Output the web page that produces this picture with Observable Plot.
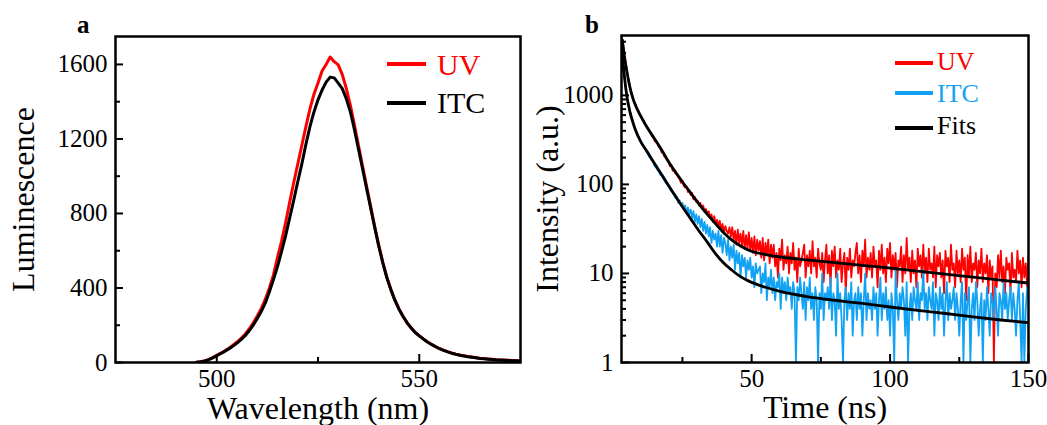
<!DOCTYPE html>
<html><head><meta charset="utf-8">
<script src="https://cdn.jsdelivr.net/npm/d3@7"></script>
<script src="https://cdn.jsdelivr.net/npm/@observablehq/plot@0.6"></script>
<style>
body{margin:0;background:#fff;}
#wrap{position:relative;width:1047px;height:425px;display:flex;overflow:hidden;background:#fff;}
#wrap svg{display:block;}
#overlay{position:absolute;left:0;top:0;pointer-events:none;}
</style></head><body><div id="wrap"></div>
<script>
// ---------- Panel a data: photoluminescence spectra ----------
const wlStart = 495, wlStep = 1;
const lumUV = [
  2,4,8,15,26,38,50,63,77,93,
  110,130,152,180,212,250,290,340,400,470,
  565,650,750,860,965,1065,1165,1265,1360,1440,
  1500,1565,1600,1640,1615,1598,1545,1470,1380,1275,
  1165,1055,945,838,730,630,538,458,392,335,
  288,248,214,186,162,144,127,111,98,86,
  75,66,58,51,45,40,36,32,29,26,
  23,21,19,17,15,14,13,12,11,10,
  9];
const lumITC = [
  2,4,8,15,25,36,48,60,73,88,
  104,123,144,170,200,236,274,320,380,445,
  515,595,680,775,870,970,1065,1170,1265,1345,
  1410,1462,1505,1532,1528,1500,1470,1415,1345,1250,
  1145,1040,935,830,725,625,535,455,390,333,
  286,247,213,185,161,143,126,110,97,85,
  74,65,57,50,44,39,35,31,28,25,
  22,20,18,16,14,13,12,11,10,9,
  8];
const xTicksA = [500, 550], xMinorA = [525];
const yTicksA = [0, 400, 800, 1200, 1600], yMinorA = [200, 600, 1000, 1400];

// ---------- Panel b data: PL decay (t from 3 ns, 0.5 ns channels) ----------
const tStart = 3, tStep = 0.5;
const decayUV = [
  4600,3900,3000,2350,1900,1520,1300,1100,980,850,
  800,720,690,610,590,545,520,470,455,430,
  395,385,350,340,305,300,285,262,255,228,
  232,205,198,185,178,160,165,142,148,132,
  128,120,115,104,110,96,92,95,82,85,
  76,80,68,72,64,66,58,62,54,58,
  49,53,46,50,42,46,38,44,36,40,
  34,39,31,36,29,34,30,28,33,26,
  33,24,30,21,31,22,28,20,30,19,
  27,19,29,18,25,17,26,16,24,18,
  23,15,25,14,22,16,24,13,21,15,
  21,12,17,9,19,14,24,11,16,13,
  20,10,17,13,22,11,15,8,19,12,
  14,17,21,9,16,12,18,10,23,12,
  15,9,19,13,11,17,8,14,21,10,
  16,7,18,12,20,9,14,11,19,8,
  13,17,6,15,11,19,9,14,12,17,
  22,10,16,8,18,12,24,9,15,11,
  17,9,20,12,14,7,18,11,21,10,
  15,8,19,13,22,9,16,11,17,7,
  14,12,20,8,16,10,25,11,15,8,
  18,10,14,7,19,12,16,9,21,10,
  15,8,19,11,13,9,20,7,16,12,
  17,9,14,6,18,12,15,8,21,11,
  13,7,18,10,14,8,19,11,15,5,
  16,9,20,8,13,11,17,7,14,10,
  19,8,13,10,16,6,14,9,12,1,
  10,7,16,9,18,8,12,6,15,11,
  13,6,17,9,11,8,18,10,14,7,
  15,9,13,7,16];
const decayITC = [
  2500,2100,1600,1200,950,800,680,590,530,470,
  420,390,350,325,300,280,262,248,232,220,
  205,200,185,178,160,155,145,140,128,126,
  118,110,104,100,95,88,84,80,76,70,
  72,62,66,58,62,52,58,48,55,46,
  52,42,50,38,46,36,44,33,41,30,
  38,28,35,26,33,22,30,24,28,20,
  30,20,27,17,25,22,16,24,14,20,
  15,21,11,18,13,17,9,16,12,15,
  9,14,11,15,9,12,7,13,10,11,
  12,6,10,8,13,5,9,7,11,6,
  9,5,8,7,10,4,9,6,8,5,
  9,6,7,4,8,6,1,7,5,9,
  6,4,8,3,7,5,9,4,6,3,
  7,5,1,6,4,10,3,6,5,7,
  4,9,3,6,5,2,10,4,6,3,
  1,5,7,3,6,4,8,2,5,6,
  3,7,4,6,2,5,10,3,6,4,
  5,3,7,4,6,2,5,9,3,6,
  4,7,3,5,2,6,4,1,11,5,
  3,6,4,7,5,2,8,1,4,6,
  3,7,5,4,8,3,6,5,11,4,
  6,3,7,5,4,8,2,6,5,3,
  7,4,6,2,5,8,3,6,4,5,
  7,3,6,4,2,5,8,1,6,3,
  5,7,1,4,6,3,8,5,2,4,
  6,1,5,3,7,4,2,6,5,3,
  7,4,2,6,5,3,8,4,6,3,
  5,7,3,6,4,2,5,8,3,1,
  6,1,4,7,5];
const fitTime = [3.3,4,5,6,7,8,10,12,14,16,18,20,22,25,28,31,34,37,40,43,46,49,55,61,70,80,90,100,110,120,130,140,150];
const fitUV  = [4200,2800,1800,1250,950,780,580,450,360,290,230,180,145,107,80,60,46,36,28.5,23.5,20.3,18.2,16.3,15.2,14.2,13.2,12.3,11.5,10.6,9.8,9.1,8.4,7.8];
const fitITC = [3000,1700,950,660,510,410,300,240,190,152,122,97,78,56,41,30,22.5,16.6,13,10.8,9.2,8.2,7,6.2,5.5,5.0,4.6,4.2,3.85,3.55,3.25,3.0,2.8];
const xTicksB = [50, 100, 150], xMinorB = [25, 75, 125];
const yTicksB = [1, 10, 100, 1000];
const yMinorB = [2,3,4,5,6,7,8,9,20,30,40,50,60,70,80,90,200,300,400,500,600,700,800,900,2000,3000,4000];

const RED = "#ff0000", BLUE = "#12a2f4";
const FONT = '"Liberation Serif","Times New Roman",Times,serif';

// ---------- tables ----------
const specUV = lumUV.map((v, i) => ({w: wlStart + i * wlStep, v}));
const specITC = lumITC.map((v, i) => ({w: wlStart + i * wlStep, v}));
const dUV = decayUV.map((v, i) => ({t: tStart + i * tStep, v}));
const dITC = decayITC.map((v, i) => ({t: tStart + i * tStep, v}));
const fUV = fitTime.map((t, i) => ({t, v: fitUV[i]}));
const fITC = fitTime.map((t, i) => ({t, v: fitITC[i]}));

function ticks(innerW, innerH, xMaj, xMin, yMaj, yMin) {
  return [
    Plot.tickX(xMaj, {x: d => d, insetTop: innerH - 8, stroke: "black", strokeWidth: 2}),
    Plot.tickX(xMin, {x: d => d, insetTop: innerH - 5, stroke: "black", strokeWidth: 2}),
    Plot.tickY(yMaj, {y: d => d, insetRight: innerW - 8, stroke: "black", strokeWidth: 2}),
    Plot.tickY(yMin, {y: d => d, insetRight: innerW - 5, stroke: "black", strokeWidth: 2})
  ];
}

// ---------- Panel a ----------
const WA = 523, HA = 425, mA = {top: 36, right: 3, bottom: 63, left: 115};
const iWA = WA - mA.left - mA.right, iHA = HA - mA.top - mA.bottom;
const plotA = Plot.plot({
  width: WA, height: HA,
  marginTop: mA.top, marginRight: mA.right, marginBottom: mA.bottom, marginLeft: mA.left,
  style: {fontFamily: FONT, fontSize: "25px", color: "black", background: "white", overflow: "visible"},
  x: {domain: [475, 575]},
  y: {domain: [0, 1750]},
  marks: [
    Plot.line(specUV, {x: "w", y: "v", stroke: RED, strokeWidth: 3, clip: true}),
    Plot.line(specITC, {x: "w", y: "v", stroke: "black", strokeWidth: 3, clip: true}),
    ...ticks(iWA, iHA, xTicksA, xMinorA, yTicksA, yMinorA),
    Plot.axisX(xTicksA, {tickSize: 0, tickPadding: 7, label: null, tickFormat: d => String(d)}),
    Plot.axisY(yTicksA, {tickSize: 0, tickPadding: 8, label: null, tickFormat: d => String(d)}),
    Plot.frame({stroke: "black", strokeWidth: 2.5}),
    Plot.text(["Wavelength (nm)"], {text: d => d, frameAnchor: "bottom", textAnchor: "middle", lineAnchor: "bottom", dy: 56, fontSize: 32}),
    Plot.text(["Luminescence"], {text: d => d, frameAnchor: "left", textAnchor: "middle", lineAnchor: "bottom", rotate: -90, dx: -82, fontSize: 32})
  ]
});

// ---------- Panel b ----------
const WB = 524, HB = 425, mB = {top: 35, right: 19, bottom: 63, left: 98};
const iWB = WB - mB.left - mB.right, iHB = HB - mB.top - mB.bottom;
const plotB = Plot.plot({
  width: WB, height: HB,
  marginTop: mB.top, marginRight: mB.right, marginBottom: mB.bottom, marginLeft: mB.left,
  style: {fontFamily: FONT, fontSize: "25px", color: "black", background: "white", overflow: "visible"},
  x: {domain: [3, 150]},
  y: {type: "log", domain: [1, 4700]},
  marks: [
    Plot.line(dUV, {x: "t", y: "v", stroke: RED, strokeWidth: 1.8, clip: true}),
    Plot.line(dITC, {x: "t", y: "v", stroke: BLUE, strokeWidth: 1.8, clip: true}),
    Plot.line(fUV, {x: "t", y: "v", stroke: "black", strokeWidth: 2.8, curve: "monotone-x", clip: true}),
    Plot.line(fITC, {x: "t", y: "v", stroke: "black", strokeWidth: 2.8, curve: "monotone-x", clip: true}),
    ...ticks(iWB, iHB, xTicksB, xMinorB, yTicksB, yMinorB),
    Plot.axisX(xTicksB, {tickSize: 0, tickPadding: 7, label: null, tickFormat: d => String(d)}),
    Plot.axisY(yTicksB, {tickSize: 0, tickPadding: 8, label: null, tickFormat: d => String(d)}),
    Plot.frame({stroke: "black", strokeWidth: 2.5}),
    Plot.text(["Time (ns)"], {text: d => d, frameAnchor: "bottom", textAnchor: "middle", lineAnchor: "bottom", dy: 55, fontSize: 32}),
    Plot.text(["Intensity (a.u.)"], {text: d => d, frameAnchor: "left", textAnchor: "middle", lineAnchor: "bottom", rotate: -90, dx: -64, fontSize: 32})
  ]
});

const wrap = document.getElementById("wrap");
wrap.appendChild(plotA);
wrap.appendChild(plotB);

// ---------- overlay: panel letters and legends ----------
const legendA = [{name: "UV", color: RED, text: RED}, {name: "ITC", color: "black", text: "black"}];
const legendB = [{name: "UV", color: RED, text: RED}, {name: "ITC", color: BLUE, text: BLUE}, {name: "Fits", color: "black", text: "black"}];
const ov = d3.select(wrap).append("svg").attr("id", "overlay").attr("width", 1047).attr("height", 425)
  .style("font-family", FONT);
ov.append("text").attr("x", 77).attr("y", 33).attr("font-size", 25).attr("font-weight", "bold").text("a");
ov.append("text").attr("x", 585).attr("y", 33).attr("font-size", 25).attr("font-weight", "bold").text("b");
function legend(items, x0, x1, tx, ys, bys, size) {
  items.forEach((d, i) => {
    ov.append("line").attr("x1", x0).attr("x2", x1).attr("y1", ys[i]).attr("y2", ys[i])
      .attr("stroke", d.color).attr("stroke-width", 4);
    ov.append("text").attr("x", tx).attr("y", bys[i]).attr("font-size", size).attr("fill", d.text).text(d.name);
  });
}
legend(legendA, 387, 426, 437, [64, 103], [75, 113], 30);
legend(legendB, 895, 933, 937, [63, 93, 128], [70, 102, 134], 26);
</script>
</body></html>
